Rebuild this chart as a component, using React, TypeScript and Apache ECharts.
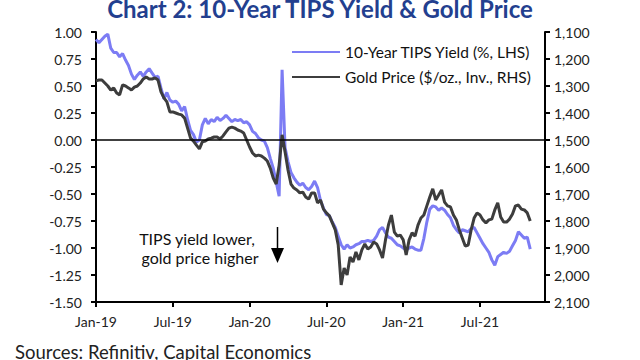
import React, { useEffect, useRef } from "react";
import * as echarts from "echarts";

const START_DATE = Date.UTC(2019, 0, 1);
const WEEK_MS = 7 * 24 * 3600 * 1000;
const AXIS_WEEKS = 153;
const CATEGORIES: string[] = Array.from({ length: AXIS_WEEKS }, (_, i) =>
  new Date(START_DATE + i * WEEK_MS).toISOString().slice(0, 10)
);

const TIPS_NAME = "10-Year TIPS Yield (%, LHS)";
const GOLD_NAME = "Gold Price ($/oz., Inv., RHS)";

const TIPS_YIELD: number[] = [
  0.93, 0.90, 0.93, 0.96, 0.98, 0.85, 0.81, 0.81, 0.77, 0.80,
  0.74, 0.69, 0.61, 0.56, 0.60, 0.63, 0.59, 0.63, 0.66, 0.62,
  0.58, 0.59, 0.48, 0.38, 0.44, 0.37, 0.35, 0.36, 0.33, 0.27,
  0.31, 0.19, 0.09, 0.05, -0.02, 0.00, 0.14, 0.20, 0.15, 0.19,
  0.17, 0.21, 0.18, 0.20, 0.23, 0.20, 0.17, 0.19, 0.18, 0.19,
  0.16, 0.17, 0.14, 0.08, 0.06, 0.02, 0.00, -0.01, -0.07, -0.17,
  -0.26, -0.39, -0.52, 0.65, -0.07, -0.20, -0.30, -0.35, -0.39, -0.42,
  -0.40, -0.44, -0.46, -0.43, -0.38, -0.44, -0.56, -0.63, -0.69, -0.70,
  -0.76, -0.81, -0.89, -0.97, -1.01, -0.97, -1.00, -0.99, -0.97, -0.96,
  -0.94, -0.94, -0.93, -0.94, -0.93, -0.89, -0.83, -0.81, -0.86, -0.90,
  -0.91, -0.94, -0.97, -0.98, -1.00, -1.02, -1.00, -0.99, -1.01, -1.02,
  -1.02, -0.91, -0.76, -0.64, -0.61, -0.62, -0.65, -0.63, -0.65, -0.69,
  -0.72, -0.79, -0.83, -0.86, -0.83, -0.84, -0.85, -0.82, -0.81, -0.86,
  -0.91, -0.96, -1.00, -1.04, -1.11, -1.16, -1.08, -1.06, -1.04, -1.05,
  -1.03, -0.98, -0.93, -0.85, -0.88, -0.91, -0.90, -1.01,
];

const GOLD_PRICE: number[] = [
  1281, 1278, 1278, 1289, 1300, 1315, 1307, 1326, 1333, 1296,
  1300, 1307, 1315, 1304, 1300, 1289, 1274, 1267, 1274, 1274,
  1270, 1278, 1322, 1344, 1359, 1396, 1396, 1400, 1404, 1407,
  1419, 1456, 1493, 1504, 1519, 1533, 1507, 1504, 1496, 1493,
  1489, 1489, 1496, 1485, 1470, 1456, 1452, 1456, 1463, 1467,
  1474, 1500, 1526, 1548, 1559, 1556, 1559, 1567, 1578, 1604,
  1641, 1663, 1593, 1481, 1544, 1611, 1663, 1678, 1685, 1696,
  1693, 1711, 1719, 1696, 1696, 1733, 1722, 1756, 1770, 1781,
  1807, 1833, 1889, 2037, 1974, 2000, 1933, 1952, 1915, 1944,
  1907, 1885, 1904, 1896, 1878, 1885, 1907, 1937, 1870, 1815,
  1778, 1841, 1856, 1852, 1870, 1926, 1870, 1844, 1856, 1815,
  1789, 1778, 1744, 1711, 1681, 1722, 1704, 1685, 1730, 1744,
  1748, 1778, 1796, 1833, 1863, 1893, 1889, 1833, 1789, 1770,
  1778, 1796, 1807, 1796, 1793, 1759, 1733, 1785, 1804, 1804,
  1793, 1774, 1744, 1741, 1756, 1759, 1770, 1800,
];

const LEFT_MIN = -1.5;
const LEFT_MAX = 1.0;
const LEFT_STEP = 0.25;
const RIGHT_MIN = 1100;
const RIGHT_MAX = 2100;
const RIGHT_STEP = 100;

const MONTHS = ["Jan", "Feb", "Mar", "Apr", "May", "Jun", "Jul", "Aug", "Sep", "Oct", "Nov", "Dec"];
const DAY_MS = 24 * 3600 * 1000;

const BLUE = "#7c7cf4";
const DARK = "#3d3d3d";
const FONT = "Lato, 'Open Sans', sans-serif";

function isHalfYearTick(value: string): boolean {
  const t = Date.parse(value + "T00:00:00Z");
  const a = new Date(t - 3 * DAY_MS);
  const b = new Date(t + 3 * DAY_MS);
  const m = b.getUTCMonth();
  return (m === 0 || m === 6) && a.getUTCMonth() !== m;
}

function tickLabel(value: string): string {
  const t = Date.parse(value + "T00:00:00Z");
  const b = new Date(t + 3 * DAY_MS);
  return MONTHS[b.getUTCMonth()] + "-" + String(b.getUTCFullYear()).slice(2);
}

export default function App() {
  const ref = useRef<HTMLDivElement>(null);
  useEffect(() => {
    if (!ref.current) return;
    const chart = echarts.init(ref.current, undefined, { renderer: "svg" });
    const axisLineStyle = { color: "#000", width: 2 };
    chart.setOption({
      animation: false,
      backgroundColor: "#ffffff",
      textStyle: { fontFamily: FONT },
      title: {
        text: "Chart 2: 10-Year TIPS Yield & Gold Price",
        left: "center",
        top: -9,
        textStyle: { fontSize: 24, fontWeight: "bold", color: "#233f8f", fontFamily: FONT },
      },
      grid: { left: 96, right: 95, top: 32, bottom: 58 },
      legend: {
        orient: "vertical",
        left: 287,
        top: 39,
        itemWidth: 48,
        itemHeight: 2,
        itemGap: 9,
        icon: "rect",
        textStyle: { fontSize: 15.5, color: "#111", fontFamily: FONT },
        data: [TIPS_NAME, GOLD_NAME],
      },
      xAxis: {
        type: "category",
        data: CATEGORIES,
        boundaryGap: false,
        axisLine: { onZero: false, lineStyle: axisLineStyle },
        axisTick: {
          show: true,
          length: 5,
          interval: (_i: number, v: string) => isHalfYearTick(v),
          lineStyle: axisLineStyle,
        },
        axisLabel: {
          interval: (_i: number, v: string) => isHalfYearTick(v),
          formatter: (v: string) => tickLabel(v),
          color: "#222",
          fontSize: 14,
          margin: 12,
          fontFamily: FONT,
        },
        splitLine: { show: false },
      },
      yAxis: [
        {
          type: "value",
          min: LEFT_MIN,
          max: LEFT_MAX,
          interval: LEFT_STEP,
          axisLine: { show: true, lineStyle: axisLineStyle },
          axisTick: { show: true, length: 5, lineStyle: axisLineStyle },
          axisLabel: {
            formatter: (v: number) => v.toFixed(2),
            color: "#222",
            fontSize: 14,
            margin: 14,
            fontFamily: FONT,
          },
          splitLine: { show: false },
        },
        {
          type: "value",
          position: "right",
          inverse: true,
          min: RIGHT_MIN,
          max: RIGHT_MAX,
          interval: RIGHT_STEP,
          axisLine: { show: true, lineStyle: axisLineStyle },
          axisTick: { show: true, length: 5, lineStyle: axisLineStyle },
          axisLabel: {
            formatter: (v: number) => v.toLocaleString("en-US"),
            color: "#222",
            fontSize: 14,
            margin: 9,
            fontFamily: FONT,
          },
          splitLine: { show: false },
        },
      ],
      series: [
        {
          name: TIPS_NAME,
          type: "line",
          yAxisIndex: 0,
          data: TIPS_YIELD,
          symbol: "none",
          showSymbol: false,
          lineStyle: { color: BLUE, width: 3 },
          itemStyle: { color: BLUE },
          markLine: {
            silent: true,
            symbol: "none",
            label: { show: false },
            lineStyle: { color: "#000", width: 1.5, type: "solid" },
            data: [{ yAxis: 0 }],
          },
        },
        {
          name: GOLD_NAME,
          type: "line",
          yAxisIndex: 1,
          data: GOLD_PRICE,
          symbol: "none",
          showSymbol: false,
          lineStyle: { color: DARK, width: 3 },
          itemStyle: { color: DARK },
        },
      ],
      graphic: [
        {
          type: "text",
          x: 197,
          y: 238,
          style: {
            text: "TIPS yield lower,",
            textAlign: "center",
            textVerticalAlign: "middle",
            fontSize: 16,
            fill: "#111",
            fontFamily: FONT,
          },
        },
        {
          type: "text",
          x: 200,
          y: 257,
          style: {
            text: "gold price higher",
            textAlign: "center",
            textVerticalAlign: "middle",
            fontSize: 16,
            fill: "#111",
            fontFamily: FONT,
          },
        },
        {
          type: "line",
          shape: { x1: 277.5, y1: 227, x2: 277.5, y2: 250 },
          style: { stroke: "#000", lineWidth: 1.5 },
        },
        {
          type: "polygon",
          shape: { points: [[271, 248], [284, 248], [277.5, 263]] },
          style: { fill: "#000" },
        },
        {
          type: "text",
          x: 15,
          y: 352,
          style: {
            text: "Sources: Refinitiv, Capital Economics",
            textVerticalAlign: "middle",
            fontSize: 18.5,
            fill: "#222",
            fontFamily: FONT,
          },
        },
      ],
    });
    return () => chart.dispose();
  }, []);
  return (
    <div
      ref={ref}
      style={{ position: "absolute", left: 0, top: 0, width: 640, height: 360, background: "#fff" }}
    />
  );
}
